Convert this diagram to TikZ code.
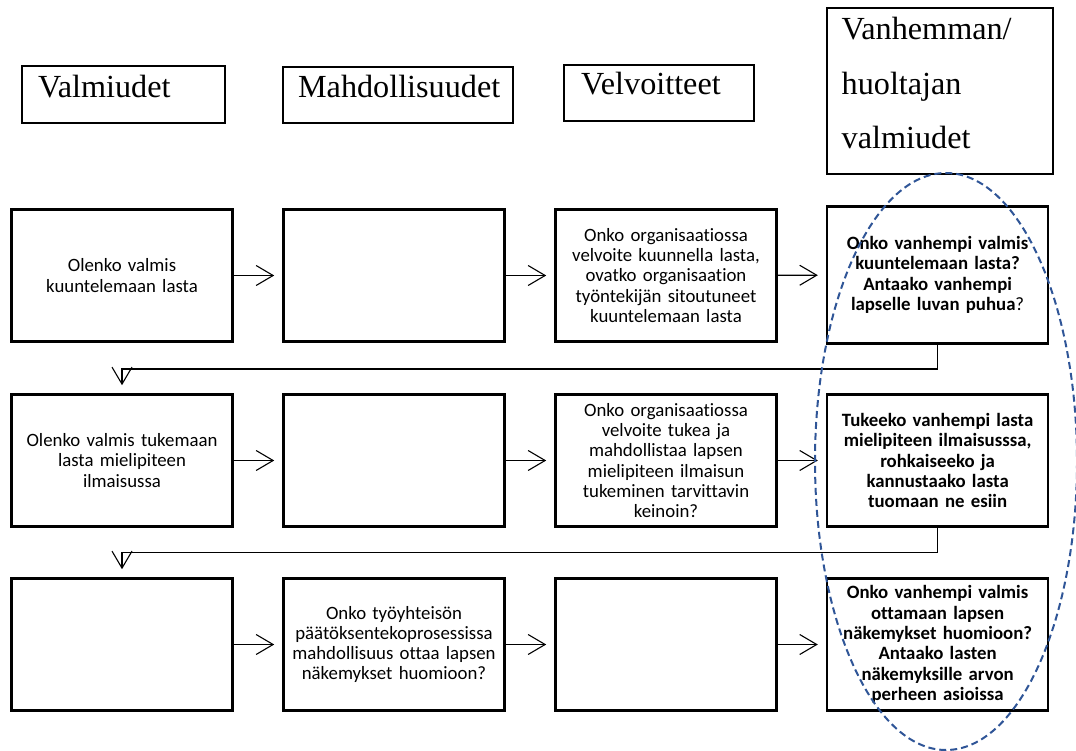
\documentclass[tikz,border=0pt]{standalone}
\usepackage{fontspec}
\setmainfont{Liberation Serif}
\newfontfamily\calfont[Ligatures=NoCommon]{Carlito}
\usetikzlibrary{arrows.meta}
\definecolor{ellblue}{RGB}{47,85,151}
\begin{document}
\begin{tikzpicture}[x=1pt,y=-1pt,
  hbox/.style={draw, line width=2pt, inner sep=0pt},
  htext/.style={font=\fontsize{32.2}{36}\selectfont, inner sep=0pt, anchor=base west},
  rbox/.style={draw, line width=2.6pt, fill=white, minimum width=221pt, minimum height=132pt,
    inner sep=0pt, text width=216pt, align=center, font=\calfont\fontsize{18.8}{20.3}\selectfont},
  pbox/.style={rbox, font=\calfont\bfseries\fontsize{18.8}{20.3}\selectfont},
  arr/.style={line width=1.1pt, -{Straight Barb[length=17pt,width=20pt,line width=1.1pt]}, shorten >=8pt},
]
\useasboundingbox (0,0) rectangle (1076,751);

% header boxes
\node[hbox, minimum width=203pt, minimum height=57pt] (h1) at (123.3,94.2) {};
\node[hbox, minimum width=230pt, minimum height=56pt] (h2) at (398,94.8) {};
\node[hbox, minimum width=190pt, minimum height=56pt] (h3) at (659,92.8) {};
\node[hbox, minimum width=226pt, minimum height=166pt] (h4) at (940,91.5) {};
\node[htext] (t1) at (37.9,97.3) {Valmiudet};
\node[htext] (t2) at (297.9,97.3) {Mahdollisuudet};
\node[htext] (t3) at (581,95) {Velvoitteet};
\node[htext] (t4a) at (841.5,39.3) {Vanhemman/};
\node[htext] (t4b) at (841.5,95) {huoltajan};
\node[htext] (t4c) at (841.5,148.3) {valmiudet};

% row 1
\node[rbox] (r1c1) at (122,275.5) {Olenko valmis\\kuuntelemaan lasta};
\node[rbox] (r1c2) at (394,275.5) {};
\node[rbox] (r1c3) at (666,275.5) {Onko organisaatiossa\\velvoite kuunnella lasta,\\ovatko organisaation\\työntekijän sitoutuneet\\kuuntelemaan lasta};
\node[pbox, minimum height=137pt] (r1c4) at (937.6,275) {Onko vanhempi valmis\\kuuntelemaan lasta?\\Antaako vanhempi\\lapselle luvan puhua\mdseries?};

% row 2
\node[rbox] (r2c1) at (122,460.5) {Olenko valmis tukemaan\\lasta mielipiteen\\ilmaisussa};
\node[rbox] (r2c2) at (394,460.5) {};
\node[rbox] (r2c3) at (666,460.5) {Onko organisaatiossa\\velvoite tukea ja\\mahdollistaa lapsen\\mielipiteen ilmaisun\\tukeminen tarvittavin\\keinoin?};
\node[pbox] (r2c4) at (937.6,460.5) {Tukeeko vanhempi lasta\\mielipiteen ilmaisusssa,\\rohkaiseeko ja\\kannustaako lasta\\tuomaan ne esiin};

% row 3
\node[rbox] (r3c1) at (122,644.5) {};
\node[rbox] (r3c2) at (394,644.5) {Onko työyhteisön\\päätöksentekoprosessissa\\mahdollisuus ottaa lapsen\\näkemykset huomioon?};
\node[rbox] (r3c3) at (666,644.5) {};
\node[pbox] (r3c4) at (937.6,644.5) {Onko vanhempi valmis\\ottamaan lapsen\\näkemykset huomioon?\\Antaako lasten\\näkemyksille arvon\\perheen asioissa};

% horizontal arrows
\draw[arr] (r1c1) -- (r1c2);
\draw[arr] (r1c2) -- (r1c3);
\draw[arr] (r1c3) -- (r1c4);
\draw[arr] (r2c1) -- (r2c2);
\draw[arr] (r2c2) -- (r2c3);
\draw[arr] (r2c3) -- (r2c4);
\draw[arr] (r3c1) -- (r3c2);
\draw[arr] (r3c2) -- (r3c3);
\draw[arr] (r3c3) -- (r3c4);

% elbow connectors
\coordinate (k1) at (937.6,369);
\coordinate (k2) at (937.6,552.3);
\draw[arr] (r1c4.south) -- (k1) -| (r2c1.north);
\draw[arr] (r2c4.south) -- (k2) -| (r3c1.north);

% dashed ellipse
\draw[ellblue, line width=2pt, dash pattern=on 7pt off 4pt] (946,461.5) ellipse [x radius=131, y radius=288.5];
\end{tikzpicture}
\end{document}
